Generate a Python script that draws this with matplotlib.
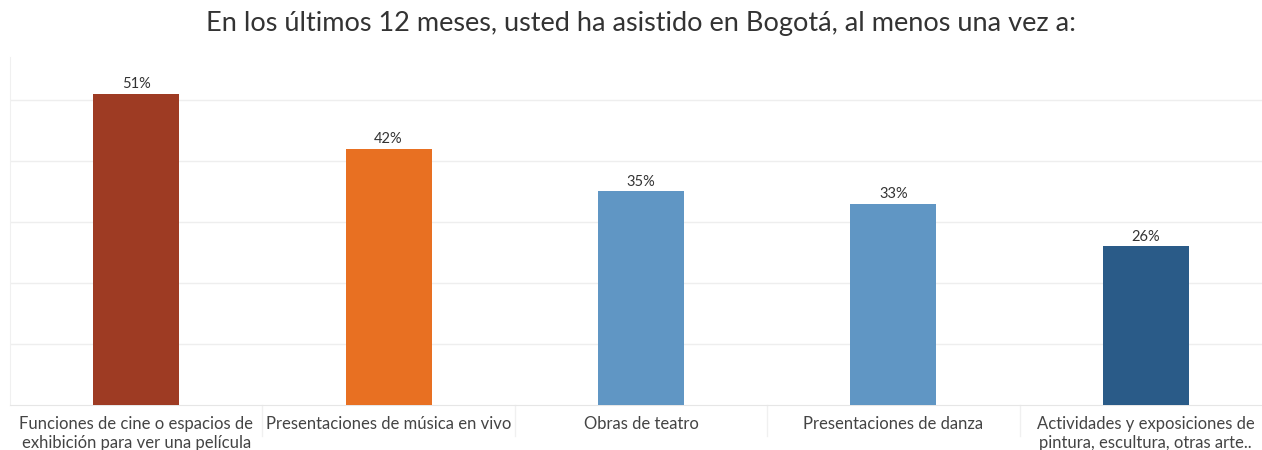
import matplotlib.pyplot as plt
import numpy as np

plt.rcParams['font.family'] = ['Lato', 'DejaVu Sans']

categories = [
    "Funciones de cine o espacios de\nexhibición para ver una película",
    "Presentaciones de música en vivo",
    "Obras de teatro",
    "Presentaciones de danza",
    "Actividades y exposiciones de\npintura, escultura, otras arte..",
]
values = [0.51, 0.42, 0.35, 0.33, 0.26]
colors = ["#9E3B23", "#E87022", "#6096C4", "#6096C4", "#2A5B88"]

fig = plt.figure(figsize=(12.62, 4.5), dpi=100)
ax = fig.add_axes([10 / 1262, 45 / 450, 1262 / 1262, 348 / 450])

x = np.arange(len(categories))
ax.bar(x, values, width=0.34, color=colors, zorder=3)
for xi, v in zip(x, values):
    ax.text(xi, v + 0.004, f"{v:.0%}", ha="center", va="bottom",
            fontsize=10.5, color="#333333", zorder=4)

ax.set_xlim(-0.5, len(categories) - 0.5)
ax.set_ylim(0, 0.57)
ax.set_yticks(np.arange(0.1, 0.51, 0.1))
ax.yaxis.grid(True, color="#EEEEEE", linewidth=1, zorder=0)
ax.tick_params(axis="y", left=False, labelleft=False)
ax.set_xticks(x)
ax.set_xticklabels(categories, fontsize=12, color="#444444", linespacing=1.25)
ax.tick_params(axis="x", length=0, pad=8)
for s in ["top", "right"]:
    ax.spines[s].set_visible(False)
ax.spines["left"].set_color("#F0F0F0")
ax.spines["bottom"].set_color("#E6E6E6")

# faint separators between categories below the axis
for b in np.arange(0.5, len(categories) - 0.5, 1):
    ax.plot([b, b], [0, -0.05], color="#F0F0F0", lw=1, clip_on=False)

fig.suptitle("En los últimos 12 meses, usted ha asistido en Bogotá, al menos una vez a:",
             x=641 / 1262, y=0.975, fontsize=19.5, color="#333333")

fig.savefig("out.png", dpi=100)
